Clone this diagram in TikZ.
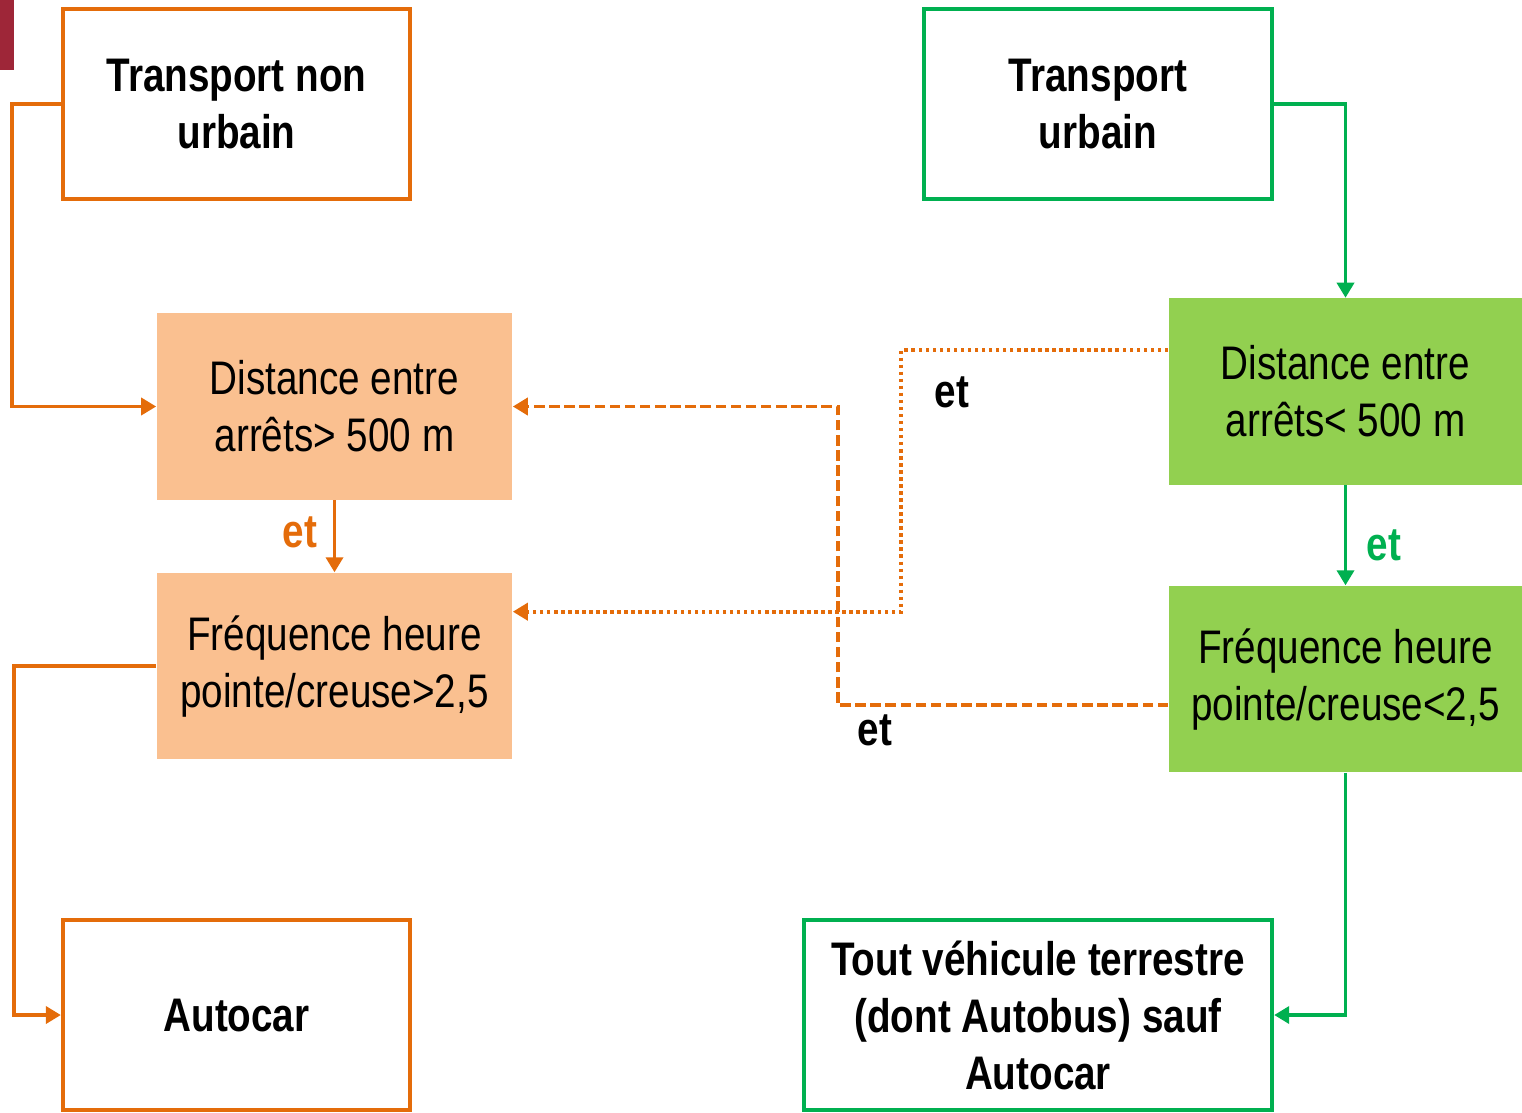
\documentclass[tikz,border=0pt]{standalone}
\usepackage{fontspec}
\setmainfont{Liberation Sans}[FakeStretch=0.82]
\usetikzlibrary{arrows.meta,calc,positioning}
\definecolor{orln}{HTML}{E46C0A}
\definecolor{orfl}{HTML}{FAC090}
\definecolor{grln}{HTML}{00B050}
\definecolor{grfl}{HTML}{92D050}
\definecolor{redbar}{HTML}{9E2638}
\newcommand{\boxfont}{\fontsize{13.4}{16.2}\selectfont}
\tikzset{pin/.style={line width=1pt, -{Triangle[length=1.5mm, width=1.7mm]}},
  endbox/.style={draw, line width=1.15pt, minimum width=3.47cm, minimum height=1.9cm, font=\boxfont\bfseries, align=center},
  critbox/.style={minimum width=3.55cm, minimum height=1.86cm, font=\boxfont, align=center},
  etlab/.style={font=\boxfont\bfseries}}

\begin{document}
\begin{tikzpicture}[x=0.01cm, y=-0.01cm]
  \useasboundingbox (0,0) rectangle (1522,1112);
  \fill[redbar] (0,0) rectangle (14,70);
  % left column
  \node[endbox, draw=orln] (tnu) at (236.5,104) {Transport non\\urbain};
  \node[critbox, fill=orfl] (od) at (334.5,406.5) {Distance entre\\arrêts> 500 m};
  \node[critbox, fill=orfl, below=0.72cm of od] (ofq) {Fréquence heure\\pointe/creuse>2,5};
  \node[endbox, draw=orln] (auto) at (236.5,1015) {Autocar};
  % right column
  \node[endbox, draw=grln, minimum width=3.48cm] (tu) at (1098,104) {Transport\\urbain};
  \node[critbox, fill=grfl, minimum width=3.53cm] (gd) at (1345.5,391.5) {Distance entre\\arrêts< 500 m};
  \node[critbox, fill=grfl, minimum width=3.53cm, below=1cm of gd] (gf) {Fréquence heure\\pointe/creuse<2,5};
  \node[endbox, draw=grln, minimum width=4.68cm] (tv) at (1038,1015) {Tout véhicule terrestre\\(dont Autobus) sauf\\Autocar};
  % orange links
  \draw[pin, orln] (tnu.west) -- ++(-49,0) |- (od.west);
  \draw[pin, orln] (od.south) -- (ofq.north);
  \draw[pin, orln] (ofq.west) -- ++(-142,0) |- (auto.west);
  \node[etlab, text=orln] (et1) at (300,532) {et};
  % green links
  \draw[pin, grln] (tu.east) -| (gd.north);
  \draw[pin, grln] (gd.south) -- (gf.north);
  \draw[pin, grln] (gf.south) |- (tv.east);
  \node[etlab, text=grln] (et2) at (1384,545) {et};
  % cross links
  \coordinate (dA) at ($(gd.north west)!.28!(gd.south west)$);
  \coordinate (dB) at ($(ofq.north east)!.21!(ofq.south east)$);
  \coordinate (cA) at ($(gf.north west)!.64!(gf.south west)$);
  \draw[pin, orln, line width=1.1pt, dash pattern=on 1pt off 1pt] (dA) -- ++(-267,0) |- (dB);
  \draw[pin, orln, line width=1.1pt, dash pattern=on 3pt off 1.3pt] (cA) -- ++(-330,0) |- (od.east);
  \node[etlab] (et3) at (952,392) {et};
  \node[etlab] (et4) at (875,730) {et};
\end{tikzpicture}
\end{document}
